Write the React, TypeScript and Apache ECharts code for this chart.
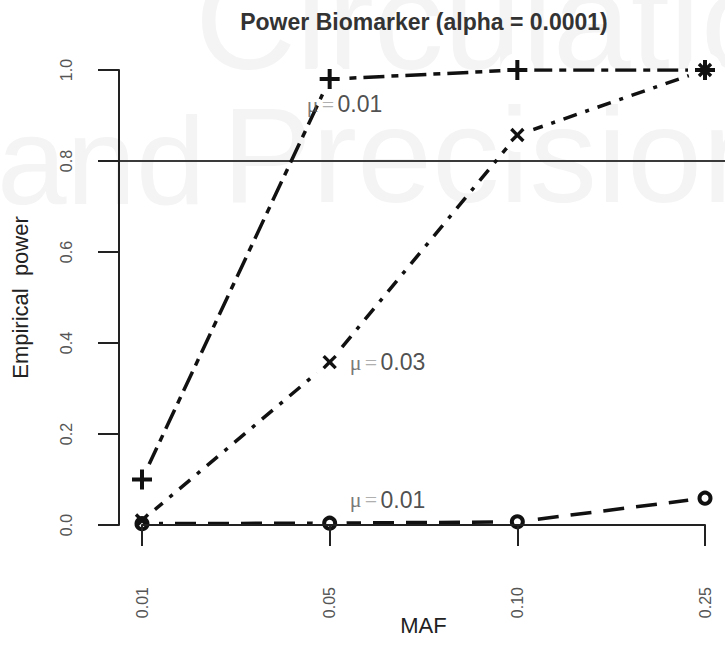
import React, { useEffect, useRef } from 'react';
import * as echarts from 'echarts';

// ---- data ----
const categories = ['0.01', '0.05', '0.10', '0.25'];
const powerMu001High = [0.10, 0.98, 1.0, 1.0];
const powerMu003 = [0.01, 0.358, 0.857, 1.0];
const powerMu001Low = [0.003, 0.004, 0.007, 0.059];
const thresholdPower = 0.8;
const yMin = 0;
const yMax = 1;
const yStep = 0.2;
const annotationTexts = ['0.01', '0.03', '0.01'];
const annotationCats = ['0.05', '0.05', '0.05'];
const annotationValues = [0.925, 0.358, 0.055];
const titleText = 'Power Biomarker (alpha = 0.0001)';
const xName = 'MAF';
const yName = 'Empirical  power';

const PLUS = 'path://M4,0H6V4H10V6H6V10H4V6H0V4H4Z';
const INK = '#111111';
const SANS = 'Liberation Sans, Arial, sans-serif';
const SERIF = 'Liberation Serif, Times New Roman, serif';
const WM = '#f4f4f4';

export default function App() {
  const ref = useRef<HTMLDivElement>(null);
  useEffect(() => {
    document.body.style.margin = '0';
    const chart = echarts.init(ref.current!, null, { renderer: 'svg' });

    const pts = (vals: number[]) => vals.map((v, i) => [categories[i], v]);
    const lineSeries = (vals: number[], dash: number[]) => ({
      type: 'line',
      xAxisIndex: 0,
      yAxisIndex: 0,
      data: pts(vals),
      showSymbol: false,
      z: 2,
      lineStyle: { color: INK, width: 3.5, type: dash, cap: 'butt' },
    });
    const maskData = [...pts(powerMu001High), ...pts(powerMu003), ...pts(powerMu001Low)];
    const annOffsets = [[-23, 0], [20, 0], [20, 0]];

    const option: any = {
      animation: false,
      backgroundColor: '#ffffff',
      graphic: [
        { type: 'text', z: -10, x: 195, y: 90, style: { text: 'Circulation', font: '140px ' + SANS, fill: WM, verticalAlign: 'bottom' } },
        { type: 'text', z: -10, x: -3, y: 223, style: { text: 'and', font: '125px ' + SANS, fill: WM, verticalAlign: 'bottom' } },
        { type: 'text', z: -10, x: 222, y: 223, style: { text: 'Precision', font: '135px ' + SANS, fill: WM, verticalAlign: 'bottom' } },
        {
          type: 'text', z: 10, x: 424, y: 22,
          style: { text: titleText, font: 'bold 23px ' + SANS, fill: '#333', align: 'center', verticalAlign: 'middle' },
        },
      ],
      grid: [
        { left: 142, right: 20, top: 70, bottom: 138 },
        { left: 98, right: 0, top: 70, bottom: 138 },
      ],
      xAxis: [
        {
          gridIndex: 0,
          type: 'category',
          data: categories,
          boundaryGap: false,
          offset: 19,
          z: 10,
          axisLine: { lineStyle: { color: '#222', width: 2 } },
          axisTick: { length: 21, lineStyle: { color: '#222', width: 2 } },
          axisLabel: { rotate: 90, margin: 43, fontSize: 16, color: '#555', fontFamily: SANS },
          name: xName,
          nameLocation: 'middle',
          nameGap: 70,
          nameMoveOverlap: false,
          nameTextStyle: { fontSize: 22, color: '#222', fontFamily: SANS },
          splitLine: { show: false },
        },
        { gridIndex: 1, type: 'value', min: 0, max: 1, show: false },
      ],
      yAxis: [
        {
          gridIndex: 0,
          type: 'value',
          min: yMin,
          max: yMax,
          interval: yStep,
          offset: 23,
          z: 10,
          axisLine: { show: true, lineStyle: { color: '#222', width: 2 } },
          axisTick: { show: true, length: 21, lineStyle: { color: '#222', width: 2 } },
          axisLabel: { rotate: 90, margin: 45, fontSize: 16, color: '#555', fontFamily: SANS, formatter: (v: number) => v.toFixed(1) },
          splitLine: { show: false },
          name: yName,
          nameLocation: 'middle',
          nameGap: 88,
          nameMoveOverlap: false,
          nameTextStyle: { fontSize: 22, color: '#222', fontFamily: SANS },
        },
        { gridIndex: 1, type: 'value', min: yMin, max: yMax, show: false },
      ],
      series: [
        {
          type: 'line',
          xAxisIndex: 1,
          yAxisIndex: 1,
          data: [[0, thresholdPower], [1, thresholdPower]],
          showSymbol: false,
          z: 1,
          lineStyle: { color: '#3a3a3a', width: 2 },
        },
        lineSeries(powerMu001High, [7, 7, 21, 7]),
        lineSeries(powerMu003, [4, 9, 14, 9]),
        lineSeries(powerMu001Low, [21, 12]),
        {
          type: 'scatter',
          xAxisIndex: 0,
          yAxisIndex: 0,
          data: maskData,
          symbol: 'circle',
          symbolSize: 34,
          z: 3,
          itemStyle: { color: '#ffffff', opacity: 1 },
        },
        {
          type: 'scatter',
          xAxisIndex: 0,
          yAxisIndex: 0,
          data: pts(powerMu001High),
          symbol: PLUS,
          symbolSize: 20,
          z: 4,
          itemStyle: { color: INK, opacity: 1 },
        },
        {
          type: 'scatter',
          xAxisIndex: 0,
          yAxisIndex: 0,
          data: pts(powerMu003),
          symbol: PLUS,
          symbolSize: 17,
          symbolRotate: 45,
          z: 4,
          itemStyle: { color: INK, opacity: 1 },
        },
        {
          type: 'scatter',
          xAxisIndex: 0,
          yAxisIndex: 0,
          data: pts(powerMu001Low),
          symbol: 'circle',
          symbolSize: 11,
          z: 4,
          itemStyle: { color: 'rgba(255,255,255,0)', borderColor: INK, borderWidth: 4, opacity: 1 },
        },
        {
          type: 'scatter',
          xAxisIndex: 0,
          yAxisIndex: 0,
          z: 5,
          symbolSize: 0,
          data: annotationTexts.map((t, i) => ({
            value: [annotationCats[i], annotationValues[i]],
            label: {
              show: true,
              position: 'right',
              distance: 0,
              offset: annOffsets[i],
              formatter: '{mu|μ} {eq|=} {num|' + t + '}',
              rich: {
                mu: { fontFamily: SERIF, fontSize: 22, color: '#555' },
                eq: { fontFamily: SERIF, fontSize: 22, color: '#999' },
                num: { fontFamily: SANS, fontSize: 23, color: '#222' },
              },
            },
          })),
        },
      ],
    };
    chart.setOption(option);
    return () => chart.dispose();
  }, []);
  return <div ref={ref} style={{ width: 725, height: 663 }} />;
}
